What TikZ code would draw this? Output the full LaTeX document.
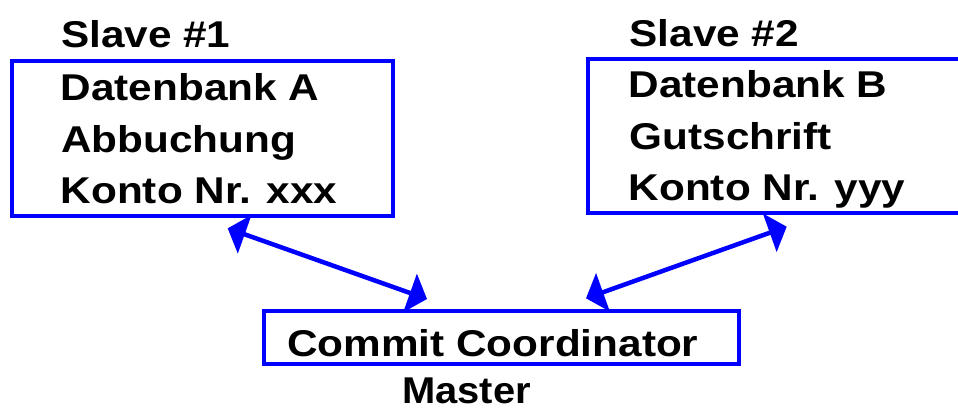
\documentclass[tikz,border=0pt]{standalone}
\usepackage{fontspec}
\setmainfont{Liberation Sans}[FakeStretch=1.134]
\newfontfamily\masterfont{Liberation Sans}[FakeStretch=1.07]
\usetikzlibrary{arrows.meta}
\definecolor{pblue}{RGB}{0,0,255}
\begin{document}
\begin{tikzpicture}[x=1pt,y=-1pt,
  box/.style={draw=pblue, line width=4pt, rectangle, inner sep=0pt, outer sep=0pt, anchor=north west},
  lbl/.style={anchor=base west, inner sep=0pt, font=\fontsize{37.3}{44}\selectfont\bfseries, text=black},
  conn/.style={draw=pblue, line width=4.5pt, {Triangle[length=18pt,width=40pt]}-{Triangle[length=18pt,width=40pt]}}]
\fill[white] (0,0) rectangle (958,408);
\useasboundingbox (0,0) rectangle (958,408);
% boxes
\node[box, minimum width=381.3pt, minimum height=154.5pt] (A) at (11.7,61) {};
\node[box, minimum width=390pt, minimum height=153.5pt] (B) at (587.5,59) {};
\node[box, minimum width=475pt, minimum height=53.2pt] (C) at (264.3,310.5) {};
% left texts
\node[lbl] (s1) at (61,47.5) {Slave \#1};
\node[lbl] (a1) at (60.5,100) {Datenbank A};
\node[lbl] (a2) at (61,152) {Abbuchung};
\node[lbl] (a3) at (60.5,203) {Konto Nr. xxx};
% right texts
\node[lbl] (s2) at (629.5,46.5) {Slave \#2};
\node[lbl] (b1) at (628.5,97.5) {Datenbank B};
\node[lbl] (b2) at (629.5,149) {Gutschrift};
\node[lbl] (b3) at (628.5,200) {Konto Nr. yyy};
% bottom texts
\node[lbl] (c1) at (287,356) {Commit Coordinator};
\node[lbl, font=\fontsize{37.3}{44}\masterfont\bfseries] (m1) at (402,403.3) {Master};
% connectors
\draw[conn] ([shift={(216,12.8)}]A.south west) -- ([shift={(162.7,-11.5)}]C.north west);
\draw[conn] ([shift={(199.2,14.2)}]B.south west) -- ([shift={(321.7,-12.2)}]C.north west);
\end{tikzpicture}
\end{document}
